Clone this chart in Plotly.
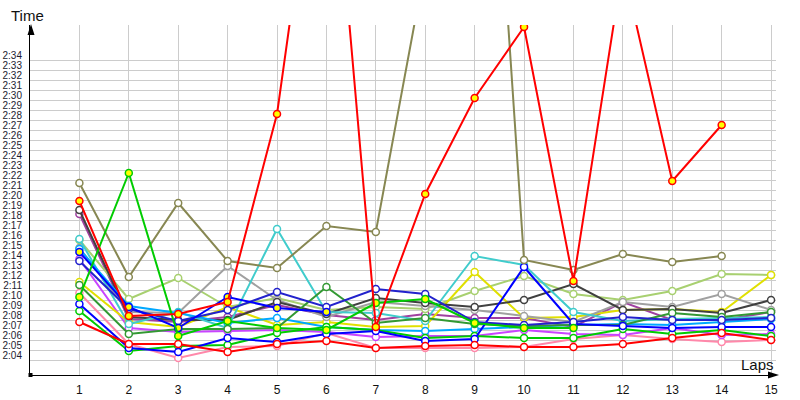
import plotly.graph_objects as go

laps = list(range(1, 16))

# lap times, seconds after 2:00
red_yellow   = [19.4, 7.9, 8.1, 9.3, 28.1, 63.4, 6.8, 20.1, 29.7, 36.8, 11.4, 42.9, 21.4, 27.0, None]
red_white    = [7.3, 5.1, 5.1, 4.3, 5.1, 5.4, 4.7, 4.9, 5.0, 4.8, 4.8, 5.1, 5.7, 6.2, 5.5]
olive        = [21.2, 11.8, 19.2, 13.4, 12.7, 16.9, 16.3, 42.9, 87.0, 13.5, 12.5, 14.1, 13.3, 13.9, None]
green_yellow = [9.8, 22.2, 5.9, 7.4, 6.7, 6.5, 9.2, 9.6, 7.2, 6.7, 6.7, None, None, None, None]
green_white  = [8.4, 4.4, 4.9, 5.0, 6.2, 6.8, 6.5, 5.7, 5.9, 5.7, 5.7, 6.6, 6.1, 6.5, 5.9]
dark_green   = [11.0, 6.1, 6.6, 6.6, 6.7, 10.8, 7.2, 7.7, 7.1, 6.9, 7.0, 7.0, 8.2, 7.8, 8.3]
blue_yellow  = [14.3, 8.8, 6.7, 9.8, 8.7, 8.3, None, None, None, None, None, None, None, None, None]
blue_white   = [9.1, 4.7, 4.3, 5.7, 5.3, 6.1, 6.4, 5.4, 5.6, 12.8, 7.1, 6.9, 6.7, 6.8, 6.8]
light_blue   = [14.6, 8.9, 8.2, 7.2, 7.7, 6.8, 6.5, 6.4, 6.6, 6.8, 7.0, 7.1, 7.0, 7.3, 7.6]
cyan         = [15.6, 7.1, 8.3, 6.7, 16.6, 8.3, 8.2, 7.4, 13.9, 13.0, 8.3, 7.4, 7.6, 7.7, 7.8]
gray         = [14.7, 8.3, 8.2, 12.9, 9.5, 7.8, 9.3, 8.9, 8.5, 7.9, 7.3, 9.3, 8.8, 10.1, 8.5]
black        = [18.5, 7.8, 7.5, 7.5, 9.3, 8.1, 9.7, 9.2, 8.8, 9.5, 11.1, 8.5, 8.6, 8.2, 9.5]
yellow       = [11.3, 7.3, 6.8, 8.8, 7.0, 7.3, 6.8, 6.9, 12.3, 7.7, 7.8, 8.5, 8.6, 8.3, 12.0]
light_green  = [15.5, 9.6, 11.7, 8.8, 9.7, 8.5, 8.8, 8.6, 10.4, 11.9, 10.1, 9.5, 10.4, 12.1, 12.0]
purple       = [18.1, 7.6, 7.3, 7.8, 9.0, 8.0, 7.5, 8.1, 7.7, 7.7, 6.8, 9.3, 7.5, 7.5, 8.3]
violet       = [13.6, 6.7, 6.3, 6.4, 6.5, 6.3, 5.8, 5.9, 5.9, 6.5, 6.1, 6.0, 6.7, 6.0, 6.1]
pink         = [10.2, 5.1, 3.7, 4.8, 4.9, 6.2, 4.7, 4.7, 4.7, 4.8, 5.6, 6.0, 5.6, 5.3, 5.5]
dark_blue    = [13.4, 8.6, 7.4, 8.5, 10.3, 8.8, 10.6, 10.1, 7.3, 7.0, 7.3, 7.8, 7.5, 7.5, 7.7]

tick_secs = list(range(4, 35))
tick_labels = [f"2:{s:02d}" for s in tick_secs]

series = [
    (pink, "#ff88aa", "white"),
    (violet, "#c844ff", "white"),
    (purple, "#a040a0", "white"),
    (light_green, "#a8d070", "white"),
    (yellow, "#e0e000", "white"),
    (gray, "#a0a0a0", "white"),
    (black, "#404040", "white"),
    (cyan, "#40cccc", "white"),
    (light_blue, "#00a8ff", "white"),
    (dark_green, "#339933", "white"),
    (green_white, "#00cc00", "white"),
    (blue_white, "#0000ff", "white"),
    (dark_blue, "#2222cc", "white"),
    (olive, "#878752", "white"),
    (red_white, "#ff0000", "white"),
    (blue_yellow, "#0000ff", "#ffff00"),
    (green_yellow, "#00cc00", "#ffff00"),
    (red_yellow, "#ff0000", "#ffff00"),
]

fig = go.Figure()
for vals, col, fill in series:
    yv = [None if v is None else 120 + v for v in vals]
    fig.add_trace(go.Scatter(
        x=laps, y=yv, mode="lines+markers",
        line=dict(color=col, width=2),
        marker=dict(symbol="circle", size=7, color=fill,
                    line=dict(color=col, width=1.5)),
        showlegend=False, hoverinfo="skip"))

W, H = 800, 400
L, R, T, B = 30, 24, 25, 25
pw, ph = W - L - R, H - T - B

def px(x):
    return (x - L) / pw

def py(y):
    return (H - B - y) / ph

grid = "#cccccc"
fig.update_layout(
    width=W, height=H,
    margin=dict(l=L, r=R, t=T, b=B, pad=0, autoexpand=False),
    paper_bgcolor="white", plot_bgcolor="white",
    font=dict(family="Liberation Sans, Arial, sans-serif", color="#111"),
    xaxis=dict(range=[0, 15.1], tickvals=laps, ticktext=[str(v) for v in laps],
               automargin=False,
               showgrid=True, gridcolor=grid, gridwidth=1, zeroline=False,
               showline=True, linecolor="black", linewidth=1,
               ticks="outside", ticklen=4, tickcolor="rgba(0,0,0,0)",
               tickfont=dict(size=12, color="#111")),
    yaxis=dict(range=[122, 157], tickvals=[120 + s for s in tick_secs], ticktext=tick_labels,
               automargin=False,
               showgrid=False, zeroline=False,
               showline=True, linecolor="black", linewidth=1,
               ticks="outside", ticklen=5, tickcolor="rgba(0,0,0,0)",
               tickfont=dict(size=10, color="#1c1c30"),
               minor=dict(tickvals=[120 + s - 0.5 for s in tick_secs],
                          showgrid=True, gridcolor=grid, gridwidth=1, ticks="")),
    shapes=[
        dict(type="path", xref="paper", yref="paper",
             path=f"M {px(31)} {py(24)} L {px(27.5)} {py(35)} L {px(34.5)} {py(35)} Z",
             fillcolor="black", line=dict(width=0)),
        dict(type="path", xref="paper", yref="paper",
             path=f"M {px(779)} {py(375)} L {px(768)} {py(371.5)} L {px(768)} {py(378.5)} Z",
             fillcolor="black", line=dict(width=0)),
        dict(type="line", xref="paper", yref="paper",
             x0=px(775), x1=px(770), y0=py(375), y1=py(375),
             line=dict(color="black", width=1)),
        dict(type="rect", xref="paper", yref="paper",
             x0=px(28.5), x1=px(32.5), y0=py(377), y1=py(373),
             fillcolor="black", line=dict(width=0)),
    ],
    annotations=[
        dict(text="Time", xref="paper", yref="paper", x=px(9), y=py(15),
             xanchor="left", yanchor="middle", showarrow=False,
             font=dict(size=15, color="#111")),
        dict(text="Laps", xref="paper", yref="paper", x=px(776), y=py(364),
             xanchor="right", yanchor="middle", showarrow=False,
             font=dict(size=15, color="#111")),
    ],
)

fig.write_html("out.html")
